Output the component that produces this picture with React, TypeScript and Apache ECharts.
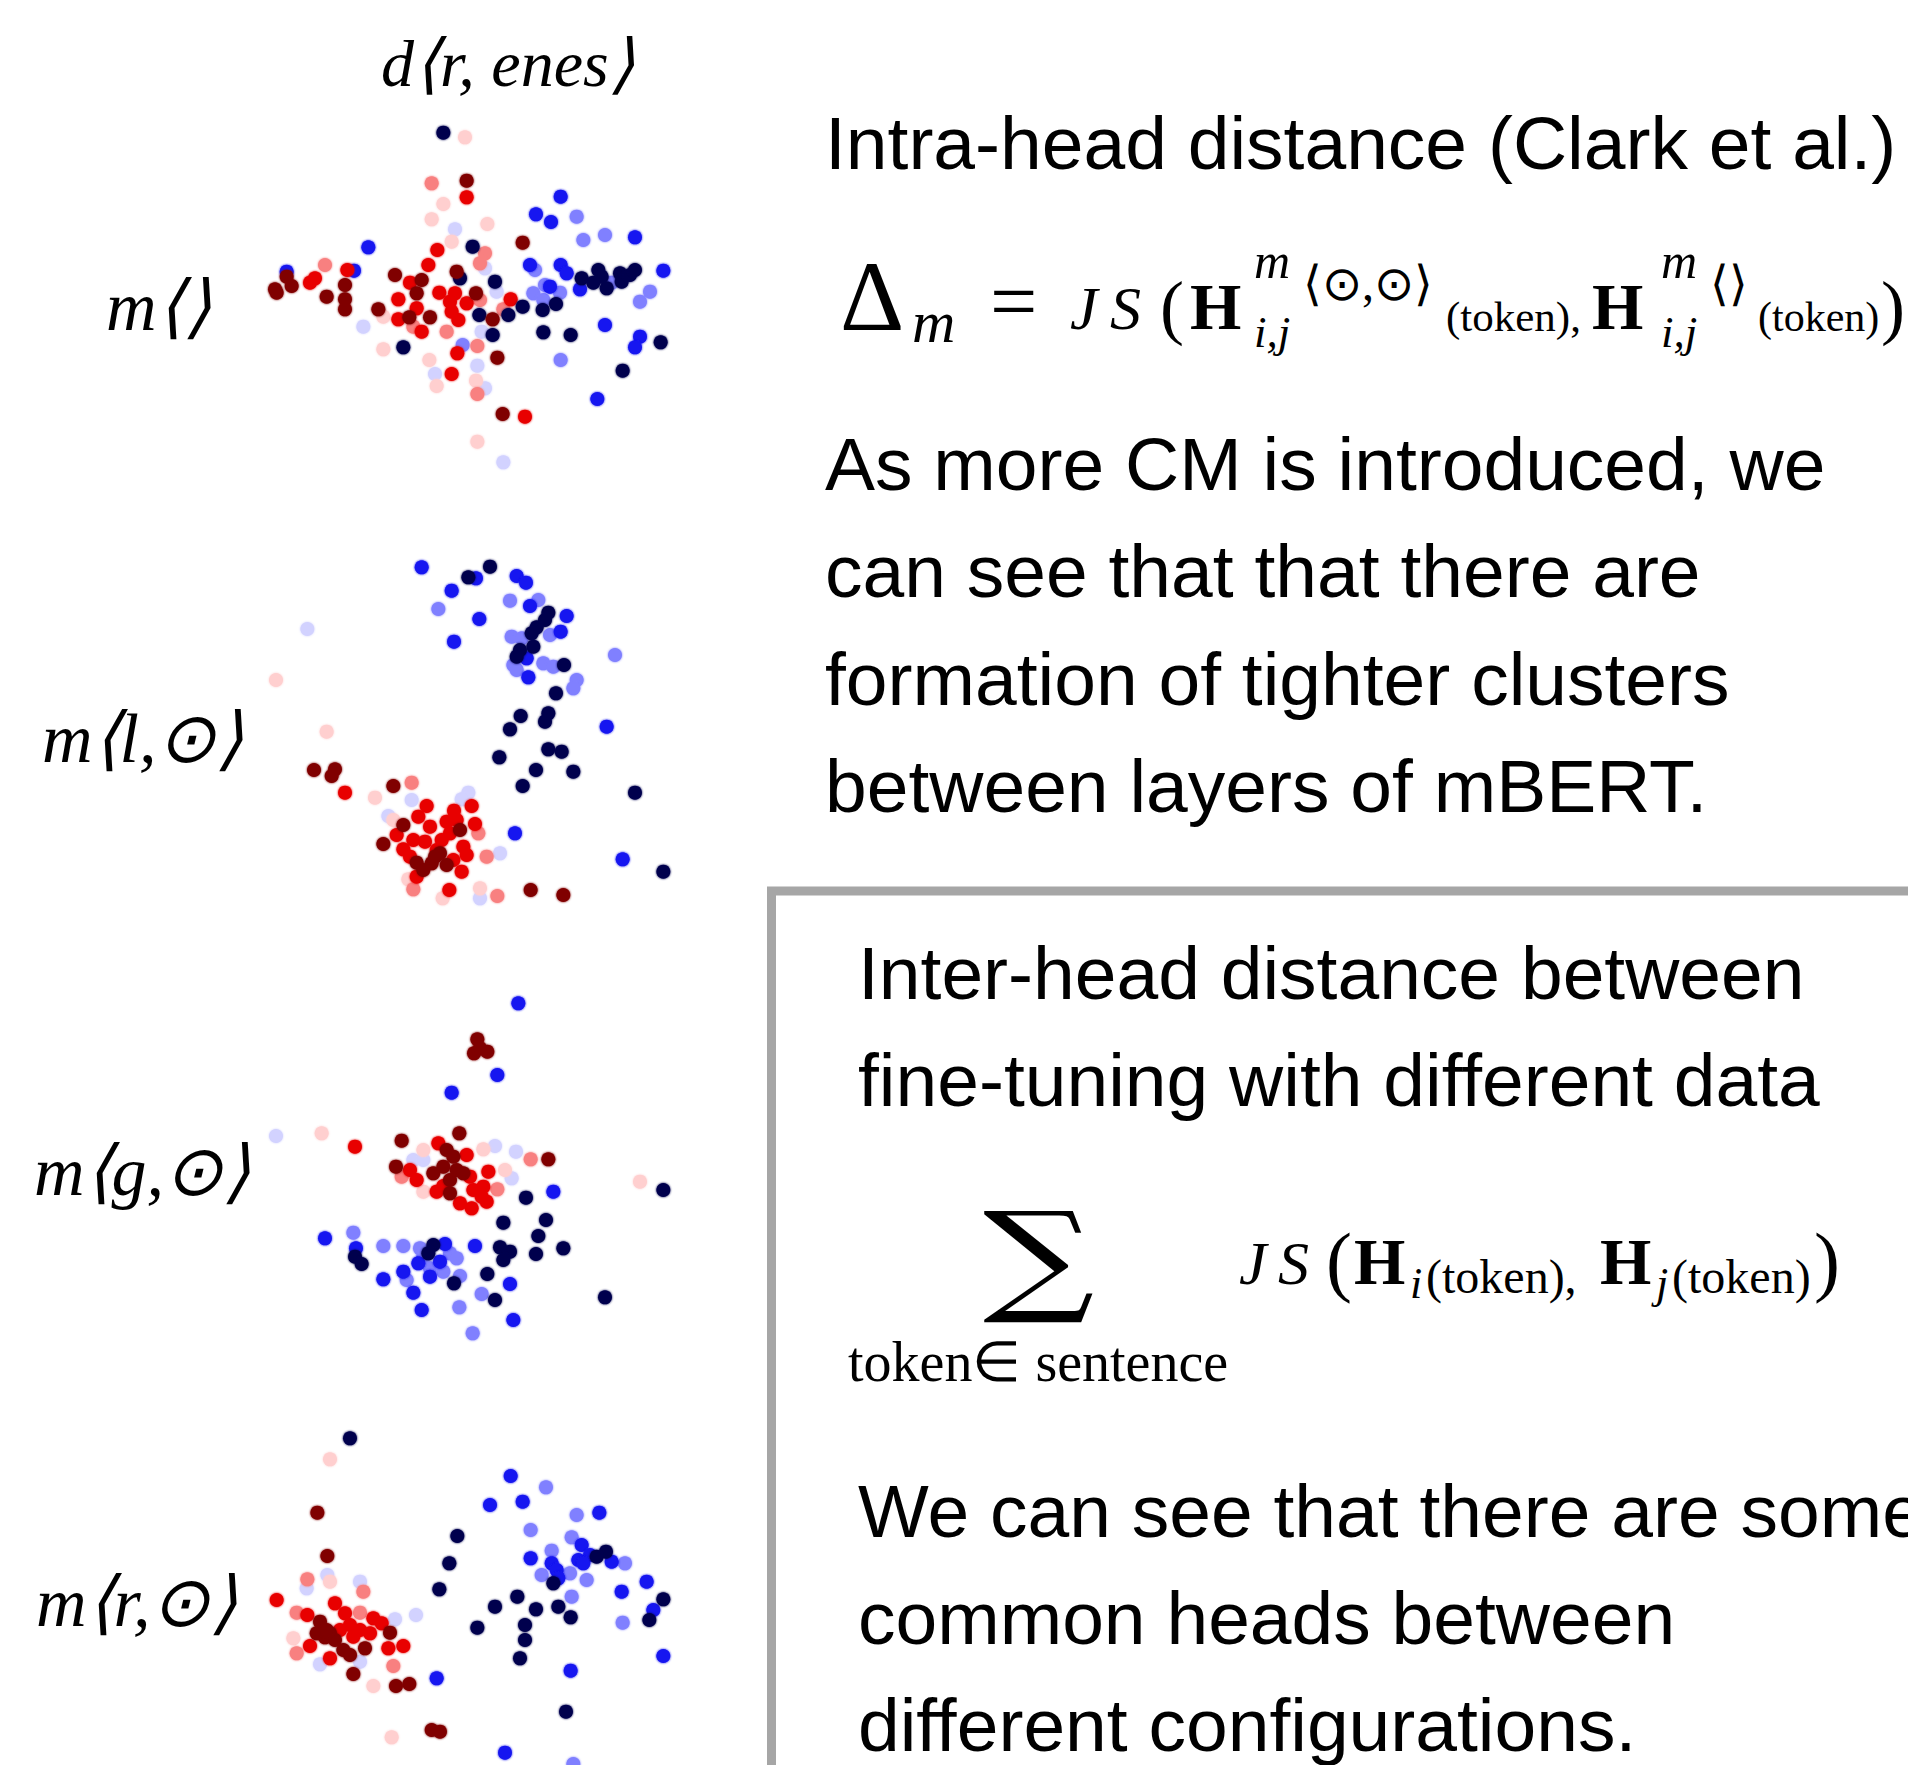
import React, { useEffect, useRef } from "react";
import * as echarts from "echarts";

// colour classes (seismic colour map levels)
const colorKeys = ["VLB", "VLR", "LB", "LR", "B", "R", "N", "DR"];
const colorValues = ["#d2d2ff", "#ffcfcf", "#8080ff", "#f88080", "#1414f0", "#e80000", "#00004e", "#800000"];

// head embeddings: [x, y, colour class]
const panelMEmpty: [number, number, string][] = [
  [580,98,"N"],[645,112,"VLR"],[545,250,"LR"],[650,242,"DR"],[650,292,"R"],[580,312,"VLR"],[545,358,"VLR"],[712,372,"VLR"],[615,388,"VLB"],[605,425,"VLR"],
  [932,290,"B"],[858,343,"B"],[903,366,"B"],[980,350,"LB"],[1000,420,"LB"],[1065,405,"LB"],[1155,412,"B"],[355,442,"B"],[668,440,"N"],[705,460,"LR"],
  [818,428,"DR"],[562,450,"R"],[690,490,"LR"],[705,505,"VLB"],[535,495,"R"],[110,515,"B"],[225,495,"LR"],[292,510,"R"],[312,512,"B"],[435,525,"DR"],
  [515,540,"DR"],[620,515,"DR"],[630,535,"N"],[735,545,"N"],[180,548,"R"],[195,535,"R"],[110,530,"DR"],[125,558,"DR"],[80,578,"DR"],[75,568,"DR"],
  [285,555,"DR"],[230,590,"DR"],[285,598,"DR"],[285,628,"DR"],[480,548,"R"],[500,580,"DR"],[568,578,"R"],[615,580,"R"],[600,605,"R"],[678,580,"DR"],
  [690,600,"LR"],[650,610,"R"],[740,575,"VLB"],[782,598,"R"],[760,628,"LR"],[385,628,"DR"],[445,598,"R"],[445,658,"R"],[478,652,"DR"],[540,652,"DR"],
  [500,625,"R"],[605,635,"R"],[625,660,"R"],[490,680,"LR"],[515,695,"R"],[590,695,"LR"],[688,645,"N"],[728,658,"DR"],[775,645,"N"],[818,620,"N"],
  [878,630,"N"],[918,612,"N"],[340,680,"VLB"],[400,650,"VLR"],[695,695,"VLB"],[728,705,"N"],[880,697,"N"],[962,705,"N"],[1065,675,"B"],[1170,710,"B"],
  [1155,742,"B"],[1232,727,"N"],[1240,512,"B"],[840,495,"B"],[855,510,"LB"],[932,495,"B"],[950,520,"B"],[885,555,"LB"],[900,560,"B"],[850,580,"LB"],
  [930,578,"LB"],[990,568,"B"],[995,535,"N"],[1045,510,"N"],[1055,530,"N"],[1030,548,"N"],[1070,565,"N"],[1110,520,"N"],[1115,545,"N"],[1140,525,"N"],
  [1155,510,"N"],[1085,548,"LB"],[1200,575,"LB"],[1170,605,"LB"],[880,600,"LB"],[460,742,"N"],[400,748,"VLR"],[638,735,"LB"],[682,738,"LR"],[622,760,"R"],
  [742,773,"DR"],[538,780,"VLR"],[932,780,"LB"],[682,797,"VLB"],[1118,812,"N"],[555,822,"VLB"],[605,822,"R"],[560,858,"VLR"],[678,842,"VLR"],[705,865,"VLB"],
  [682,882,"LR"],[1042,897,"B"],[758,942,"DR"],[825,950,"R"],[682,1025,"VLR"],[760,1087,"VLB"]
];

const panelMLocal: [number, number, string][] = [
  [515,82,"B"],[655,112,"N"],[678,115,"B"],[720,80,"N"],[800,108,"B"],[828,128,"B"],[605,152,"B"],[565,207,"LB"],[780,182,"LB"],[865,180,"LB"],
  [840,198,"B"],[895,218,"N"],[885,240,"N"],[950,228,"B"],[688,237,"B"],[172,267,"VLB"],[860,262,"N"],[845,280,"N"],[932,275,"B"],[785,290,"LB"],
  [815,295,"LB"],[900,285,"LB"],[612,305,"B"],[850,320,"N"],[810,330,"N"],[800,350,"N"],[830,355,"B"],[790,375,"LB"],[880,370,"LB"],[910,380,"LB"],
  [942,375,"N"],[835,412,"B"],[800,390,"LB"],[1095,345,"LB"],[980,420,"LB"],[970,445,"LB"],[78,420,"VLR"],[918,460,"N"],[812,528,"N"],[895,520,"N"],
  [885,545,"N"],[780,568,"N"],[1070,560,"B"],[230,575,"VLR"],[748,652,"N"],[895,628,"N"],[935,635,"N"],[858,690,"N"],[970,695,"N"],[818,738,"N"],
  [1155,758,"N"],[192,690,"DR"],[255,688,"DR"],[245,708,"DR"],[285,758,"R"],[375,773,"VLR"],[430,738,"DR"],[485,728,"LR"],[485,780,"VLB"],[655,758,"VLB"],
  [635,778,"VLB"],[530,798,"R"],[612,812,"R"],[665,798,"R"],[415,828,"VLB"],[430,840,"VLR"],[505,830,"R"],[540,860,"R"],[460,855,"DR"],[590,845,"R"],
  [620,840,"R"],[630,870,"DR"],[675,852,"R"],[685,880,"LR"],[440,885,"R"],[400,912,"DR"],[490,900,"R"],[575,900,"R"],[640,920,"R"],[650,945,"R"],
  [570,940,"DR"],[545,970,"DR"],[500,968,"DR"],[520,990,"DR"],[590,975,"DR"],[460,928,"R"],[610,960,"R"],[500,1010,"R"],[635,995,"R"],[710,950,"LR"],
  [750,940,"VLB"],[795,880,"B"],[1118,958,"B"],[1240,995,"N"],[475,1018,"VLR"],[490,1048,"LR"],[598,1050,"R"],[690,1045,"VLR"],[690,1075,"VLB"],[742,1068,"LR"],
  [578,1075,"VLR"],[842,1050,"DR"],[940,1065,"DR"],[560,930,"R"],[525,905,"R"],[600,880,"R"],[555,950,"DR"],[480,950,"R"]
];

const panelMGlobal: [number, number, string][] = [
  [805,100,"B"],[682,208,"DR"],[672,250,"DR"],[712,245,"DR"],[690,235,"DR"],[742,315,"B"],[605,368,"B"],[78,498,"VLB"],[215,490,"VLR"],[315,530,"R"],
  [455,512,"DR"],[628,490,"DR"],[520,540,"VLR"],[565,520,"R"],[590,540,"DR"],[610,560,"DR"],[650,555,"R"],[700,538,"VLR"],[735,528,"VLB"],[798,545,"VLB"],
  [842,568,"LR"],[895,568,"DR"],[438,590,"DR"],[490,570,"VLB"],[520,570,"VLB"],[480,600,"R"],[500,630,"R"],[455,620,"LR"],[550,610,"DR"],[580,590,"DR"],
  [600,630,"DR"],[620,600,"DR"],[640,610,"DR"],[660,620,"R"],[670,660,"R"],[715,605,"R"],[700,650,"R"],[765,600,"VLR"],[785,625,"VLB"],[742,658,"LR"],
  [560,665,"R"],[600,670,"DR"],[580,648,"R"],[520,665,"VLR"],[630,700,"R"],[665,715,"R"],[710,695,"R"],[695,680,"R"],[1170,635,"VLR"],[1240,660,"N"],
  [828,683,"N"],[910,665,"B"],[760,758,"N"],[888,750,"N"],[865,798,"N"],[940,835,"N"],[858,852,"N"],[750,832,"N"],[780,845,"N"],[760,870,"N"],
  [675,828,"B"],[225,805,"B"],[310,788,"LB"],[318,835,"B"],[315,860,"N"],[335,882,"N"],[400,828,"LB"],[460,828,"LB"],[510,835,"LB"],[550,825,"N"],
  [535,850,"N"],[585,822,"B"],[600,850,"LB"],[620,865,"LB"],[570,875,"B"],[505,880,"B"],[540,895,"LB"],[580,905,"LB"],[520,860,"LB"],[460,905,"B"],
  [470,930,"LB"],[540,920,"B"],[612,940,"N"],[630,918,"LB"],[400,928,"B"],[712,912,"N"],[780,942,"B"],[490,968,"B"],[695,972,"LB"],[735,990,"N"],
  [515,1020,"B"],[628,1012,"LB"],[790,1050,"B"],[668,1090,"LB"],[1065,982,"N"]
];

const panelMRandom: [number, number, string][] = [
  [300,115,"N"],[240,178,"VLR"],[202,338,"DR"],[232,468,"DR"],[172,538,"LR"],[232,525,"VLB"],[240,545,"VLR"],[330,545,"VLB"],[340,575,"LR"],[170,565,"VLB"],
  [80,600,"R"],[140,638,"LR"],[172,645,"R"],[255,610,"R"],[285,640,"R"],[330,638,"LR"],[370,655,"R"],[395,670,"R"],[435,658,"VLB"],[498,645,"VLB"],
  [210,665,"DR"],[300,675,"R"],[240,700,"DR"],[225,712,"DR"],[255,720,"DR"],[330,690,"R"],[360,700,"R"],[420,698,"DR"],[130,715,"VLR"],[180,738,"R"],
  [140,760,"LR"],[280,750,"DR"],[300,765,"DR"],[240,775,"R"],[345,745,"DR"],[415,745,"R"],[460,738,"R"],[210,793,"VLB"],[330,785,"VLB"],[430,798,"LR"],
  [310,822,"DR"],[370,858,"VLR"],[438,858,"DR"],[478,852,"DR"],[560,835,"B"],[545,990,"DR"],[570,995,"DR"],[425,1012,"VLR"],[765,1058,"B"],[948,935,"N"],
  [962,812,"B"],[1240,768,"B"],[782,228,"B"],[888,262,"LB"],[720,315,"B"],[818,305,"B"],[980,345,"LB"],[1048,338,"B"],[842,390,"LB"],[622,408,"N"],
  [965,412,"LB"],[995,435,"B"],[1068,455,"N"],[905,452,"LB"],[842,475,"B"],[1020,465,"B"],[985,480,"B"],[1000,490,"B"],[1040,470,"N"],[1085,485,"B"],
  [1125,490,"LB"],[598,490,"N"],[905,490,"B"],[920,510,"B"],[875,525,"LB"],[910,550,"N"],[925,535,"B"],[960,520,"LB"],[1010,540,"LB"],[1190,545,"B"],
  [1115,575,"B"],[1240,598,"N"],[1210,630,"B"],[1198,660,"N"],[1118,668,"LB"],[568,568,"N"],[802,590,"N"],[735,620,"N"],[858,628,"N"],[925,620,"N"],
  [962,652,"N"],[965,590,"LB"],[682,683,"N"],[825,675,"N"],[825,720,"N"],[810,775,"N"],[970,1092,"LB"],[200,700,"DR"],[270,690,"R"],[310,710,"R"],[230,690,"DR"]
];

const panelLabels = ["m⟨⟩", "m⟨l,⊙⟩", "m⟨g,⊙⟩", "m⟨r,⊙⟩"];
const columnLabel = "d⟨r, enes⟩";
const intraTitle = "Intra-head distance (Clark et al.)";
const intraLines = ["As more CM is introduced, we", "can see that that there are", "formation of tighter clusters", "between layers of mBERT."];
const interTitle = ["Inter-head distance between", "fine-tuning with different data"];
const interLines = ["We can see that there are some", "common heads between", "different configurations."];

const panels = [panelMEmpty, panelMLocal, panelMGlobal, panelMRandom];

export default function App() {
  const ref = useRef<HTMLDivElement>(null);
  useEffect(() => {
    if (!ref.current) return;
    const chart = echarts.init(ref.current, undefined, { renderer: "svg" });
    const tops = [100, 540, 970, 1400];
    const heights = [380, 380, 380, 365];
    const grids = tops.map((t, i) => ({ left: 250, top: t, width: 440, height: heights[i] }));
    const xAxes = tops.map((_, i) => ({ type: "value", gridIndex: i, min: 0, max: 1320, show: false }));
    const yAxes = tops.map((_, i) => ({ type: "value", gridIndex: i, min: 0, max: heights[i] * 3, inverse: true, show: false }));
    const series: any[] = [];
    panels.forEach((pts, p) => {
      colorKeys.forEach((k, ci) => {
        series.push({
          type: "scatter",
          xAxisIndex: p,
          yAxisIndex: p,
          symbolSize: 14,
          silent: true,
          itemStyle: { color: colorValues[ci], opacity: 1, shadowBlur: 2, shadowColor: colorValues[ci] },
          data: pts.filter((d) => d[2] === k).map((d) => [d[0], d[1]]),
        });
      });
    });

    const SANS = "Liberation Sans, Arial, sans-serif";
    const SERIF = "Liberation Serif, Times New Roman, serif";
    const t = (text: string, x: number, base: number, size: number, o: any = {}) => ({
      type: "text",
      x,
      y: base - 0.34 * size,
      scaleX: o.scaleX || 1,
      silent: true,
      style: {
        text,
        fontSize: size,
        fontFamily: o.family || SERIF,
        fontStyle: o.italic ? "italic" : "normal",
        fontWeight: o.bold ? "bold" : "normal",
        fill: "#000",
        align: "left",
        verticalAlign: "middle",
        textAlign: "left",
        textVerticalAlign: "middle",
      },
    });

    const labelBases = [330, 762, 1195, 1626];
    const labelX = [106, 42, 34, 36];
    const graphics: any[] = [];
    graphics.push(t(columnLabel, 381, 86, 66, { italic: true }));
    panelLabels.forEach((l, i) => graphics.push(t(l, labelX[i], labelBases[i], 70, { italic: true })));

    graphics.push(t(intraTitle, 825, 168, 75, { family: SANS }));
    // Δ_m = JS(H^{m⟨⊙,⊙⟩}_{i,j}(token), H^{m⟨⟩}_{i,j}(token))
    graphics.push(t("Δ", 840, 330, 100));
    graphics.push(t("m", 912, 342, 60, { italic: true }));
    graphics.push(t("=", 990, 330, 84));
    graphics.push(t("J", 1070, 329, 62, { italic: true }));
    graphics.push(t("S", 1110, 329, 62, { italic: true }));
    graphics.push(t("(", 1160, 331, 72));
    graphics.push(t("H", 1190, 329, 66, { bold: true }));
    graphics.push(t("m", 1254, 278, 50, { italic: true }));
    graphics.push(t("⟨⊙,⊙⟩", 1303, 300, 48));
    graphics.push(t("i,j", 1254, 347, 45, { italic: true }));
    graphics.push(t("(token),", 1446, 331, 43));
    graphics.push(t("H", 1592, 329, 66, { bold: true }));
    graphics.push(t("m", 1661, 278, 50, { italic: true }));
    graphics.push(t("⟨⟩", 1710, 300, 48));
    graphics.push(t("i,j", 1661, 347, 45, { italic: true }));
    graphics.push(t("(token)", 1758, 331, 42));
    graphics.push(t(")", 1881, 331, 72));

    intraLines.forEach((l, i) => graphics.push(t(l, 825, 489 + i * 107.5, 75, { family: SANS })));

    // box
    graphics.push({
      type: "rect",
      silent: true,
      shape: { x: 771.5, y: 891, width: 1300, height: 1100 },
      style: { fill: "none", stroke: "#a6a6a6", lineWidth: 9 },
    });
    interTitle.forEach((l, i) => graphics.push(t(l, 858, 998 + i * 107, 75, { family: SANS })));

    graphics.push(t("∑", 983, 1298, 122, { family: "DejaVu Serif, serif", scaleX: 1.28 }));
    graphics.push(t("token∈ sentence", 848, 1381, 56));
    graphics.push(t("J", 1239, 1284, 62, { italic: true }));
    graphics.push(t("S", 1278, 1284, 62, { italic: true }));
    graphics.push(t("(", 1326, 1287, 78));
    graphics.push(t("H", 1354, 1284, 66, { bold: true }));
    graphics.push(t("i", 1410, 1298, 44, { italic: true }));
    graphics.push(t("(token),", 1426, 1293, 48));
    graphics.push(t("H", 1600, 1284, 66, { bold: true }));
    graphics.push(t("j", 1656, 1298, 44, { italic: true }));
    graphics.push(t("(token)", 1672, 1293, 48));
    graphics.push(t(")", 1814, 1287, 78));

    interLines.forEach((l, i) => graphics.push(t(l, 858, 1536 + i * 107, 75, { family: SANS })));

    chart.setOption({
      animation: false,
      backgroundColor: "#ffffff",
      grid: grids,
      xAxis: xAxes,
      yAxis: yAxes,
      series,
      graphic: { elements: graphics },
    });
    return () => chart.dispose();
  }, []);
  return (
    <div
      ref={ref}
      style={{ position: "absolute", left: 0, top: 0, width: 1908, height: 1765 }}
    />
  );
}
